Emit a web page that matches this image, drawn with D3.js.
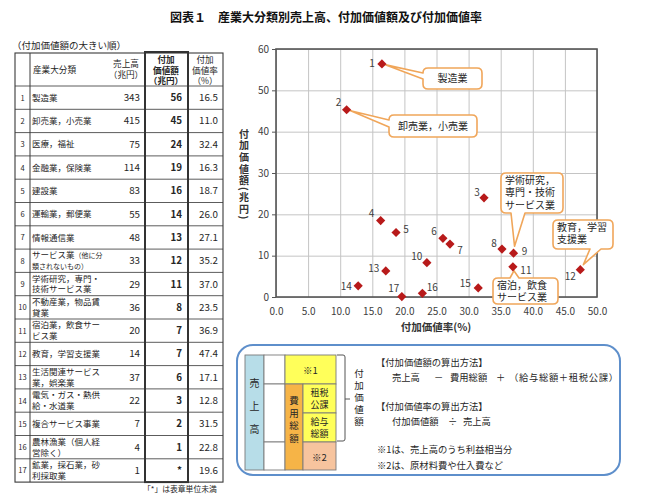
<!DOCTYPE html>
<html><head><meta charset="utf-8">
<script src="https://cdn.jsdelivr.net/npm/d3@7/dist/d3.min.js"></script>
<style>
body{margin:0;background:#fff;}
svg{display:block;}
text{font-family:"Noto Sans CJK JP","Noto Sans",sans-serif;}
</style>
</head><body>
<svg id="c" width="650" height="496"></svg>
<script>
// ---------- data ----------
const industryNo = [1,2,3,4,5,6,7,8,9,10,11,12,13,14,15,16,17];
const industryNames = [
  ["製造業"],["卸売業，小売業"],["医療，福祉"],["金融業，保険業"],["建設業"],
  ["運輸業，郵便業"],["情報通信業"],["サービス業（他に分","類されないもの）"],
  ["学術研究，専門・","技術サービス業"],["不動産業，物品賃","貸業"],["宿泊業，飲食サー","ビス業"],
  ["教育，学習支援業"],["生活関連サービス","業，娯楽業"],["電気・ガス・熱供","給・水道業"],
  ["複合サービス事業"],["農林漁業（個人経","営除く）"],["鉱業，採石業，砂","利採取業"]
];
const salesTrillion = [343,415,75,114,83,55,48,33,29,36,20,14,37,22,7,4,1];
const addedValueLabel = ["56","45","24","19","16","14","13","12","11","8","7","7","6","3","2","1","*"];
const addedValueRate = [16.5,11.0,32.4,16.3,18.7,26.0,27.1,35.2,37.0,23.5,36.9,47.4,17.1,12.8,31.5,22.8,19.6];
const addedValuePlot = [56.4,45.3,24.0,18.5,15.6,14.2,12.8,11.6,10.6,8.3,7.3,6.6,6.3,2.7,2.2,0.9,0.1];
const xTicks = [0,5,10,15,20,25,30,35,40,45,50];
const yTicks = [0,10,20,30,40,50,60];
const calloutIndex = [0,1,8,11,10];
const calloutText = [["製造業"],["卸売業，小売業"],["学術研究，","専門・技術","サービス業"],["教育，学習","支援業"],["宿泊，飲食","サービス業"]];

// ---------- layout ----------
const svg = d3.select("#c");
const x = d3.scaleLinear().domain([0,50]).range([276,597]);
const y = d3.scaleLinear().domain([0,60]).range([297,49]);
const TXT = "#262626";

// title
svg.append("text").attr("x",170).attr("y",22).attr("font-size",12).attr("font-weight","bold").attr("fill","#111").text("図表１");
svg.append("text").attr("x",218).attr("y",22).attr("font-size",12).attr("font-weight","bold").attr("fill","#111")
  .attr("textLength",264).text("産業大分類別売上高、付加価値額及び付加価値率");

// ---------- table ----------
const T = {left:15, numR:30, addL:145, addR:188, right:223, top:53, headB:86, rowH:23.3};
const tg = svg.append("g");
svg.append("text").attr("x",12).attr("y",49).attr("font-size",9.5).attr("fill",TXT).text("（付加価値額の大きい順）");
const tBottom = T.headB + T.rowH*industryNo.length;
const hdr = (xc, ys, lines, bold, anchor) => lines.forEach((l,i)=>tg.append("text").attr("x",xc).attr("y",ys+i*10.5)
   .attr("font-size",8.6).attr("text-anchor",anchor||"middle").attr("font-weight",bold?"bold":"normal").attr("fill",TXT).text(l));
hdr(33,73,["産業大分類"],false,"start");
hdr(126,67,["売上高","（兆円）"]);
hdr(166,63,["付加","価値額","（兆円）"],true);
hdr(205,63,["付加","価値率","（%）"]);
const rows = tg.selectAll("g.row").data(industryNo).join("g").attr("class","row")
  .attr("transform",(d,i)=>`translate(0,${T.headB+i*T.rowH})`);
rows.append("line").attr("x1",T.left).attr("x2",T.right).attr("y1",0).attr("y2",0).attr("stroke","#4a4a4a").attr("stroke-width",0.9);
rows.append("text").attr("x",22.5).attr("y",T.rowH/2+3).attr("font-size",7.5).attr("text-anchor","middle").attr("fill",TXT).text(d=>d);
rows.each(function(d,i){
  const g = d3.select(this), lines = industryNames[i];
  lines.forEach((l,j)=>{
    const yy = lines.length===1 ? T.rowH/2+3.2 : 9.3 + j*10.8;
    const t = g.append("text").attr("x",32).attr("y",yy).attr("font-size",8.5).attr("fill",TXT);
    if(i===7){
      if(j===0){ t.append("tspan").text("サービス業"); t.append("tspan").attr("font-size",7).text("（他に分"); }
      else { t.attr("font-size",7).text(l); }
    } else t.text(l);
  });
});
rows.append("text").attr("x",140).attr("y",T.rowH/2+3.5).attr("font-size",9.8).attr("text-anchor","end").attr("fill",TXT).text((d,i)=>salesTrillion[i]);
rows.append("text").attr("x",182).attr("y",T.rowH/2+3.5).attr("font-size",9.8).attr("font-weight","bold").attr("text-anchor","end").attr("fill",TXT).text((d,i)=>addedValueLabel[i]);
rows.append("text").attr("x",218).attr("y",T.rowH/2+3.5).attr("font-size",9.8).attr("text-anchor","end").attr("fill",TXT).text((d,i)=>addedValueRate[i].toFixed(1));
tg.append("rect").attr("x",T.left).attr("y",T.top).attr("width",T.right-T.left).attr("height",tBottom-T.top).attr("fill","none").attr("stroke","#3a3a3a").attr("stroke-width",1.1);
tg.append("line").attr("x1",T.numR).attr("x2",T.numR).attr("y1",T.top).attr("y2",tBottom).attr("stroke","#3a3a3a").attr("stroke-width",1);
tg.append("rect").attr("x",T.addL).attr("y",T.top-1).attr("width",T.addR-T.addL).attr("height",tBottom-T.top+1).attr("fill","none").attr("stroke","#333").attr("stroke-width",2);
svg.append("text").attr("x",143).attr("y",492).attr("font-size",7.8).attr("fill",TXT).text("「*」は表章単位未満");

// ---------- scatter ----------
const pg = svg.append("g");
pg.append("g").attr("transform","translate(0,297)")
  .call(d3.axisBottom(x).tickValues(xTicks).tickSize(-248).tickFormat(""))
  .call(g=>{g.select(".domain").remove(); g.selectAll("line").attr("stroke","#c4c4c4");});
pg.append("g").attr("transform","translate(276,0)")
  .call(d3.axisLeft(y).tickValues(yTicks).tickSize(-321).tickFormat(""))
  .call(g=>{g.select(".domain").remove(); g.selectAll("line").attr("stroke","#c4c4c4");});
pg.append("rect").attr("x",276).attr("y",49).attr("width",321).attr("height",248).attr("fill","none").attr("stroke","#555").attr("stroke-width",1.6);
pg.append("g").attr("transform","translate(276,0)")
  .call(d3.axisLeft(y).tickValues(yTicks).tickSize(4).tickPadding(3).tickFormat(d3.format("d")))
  .call(g=>{g.select(".domain").remove(); g.selectAll("line").attr("stroke","#555");
    g.selectAll("text").attr("font-size",10).attr("fill","#404040").attr("font-family","Noto Sans");});
pg.append("g").attr("transform","translate(0,297)")
  .call(d3.axisBottom(x).tickValues(xTicks).tickSize(0).tickPadding(11).tickFormat(d3.format(".1f")))
  .call(g=>{g.select(".domain").remove();
    g.selectAll("text").attr("font-size",10).attr("fill","#404040").attr("font-family","Noto Sans");});
svg.append("text").attr("x",436).attr("y",331).attr("font-size",10.5).attr("font-weight","bold").attr("text-anchor","middle").attr("fill","#333").text("付加価値率(%)");
const vertical=(parent,xc,yc,str,fs,ls,bold)=>parent.append("text").attr("x",xc).attr("y",yc)
  .attr("writing-mode","vertical-rl").attr("text-anchor","middle").attr("font-size",fs)
  .attr("letter-spacing",ls).attr("font-weight",bold?"bold":"normal").attr("fill",bold?"#333":TXT).text(str);
vertical(svg,244,175,"付加価値額(兆円)",10,1.6,true);

// callouts
const callLayout = [
  {box:[423,68,482,89], side:"left", a:73, b:79, tip:[4,1]},
  {box:[389,115,477,137], side:"left", a:120, b:127, tip:[4,1]},
  {box:[501,173,563,213], side:"bottom", a:511, b:525, tip:[1,-7]},
  {box:[553,220,613,249], side:"bottom", a:590, b:601, tip:[3,-5]},
  {box:[493,278,558,304], side:"top", a:510, b:519, tip:[1,4]}
];
function calloutPath(L, tx, ty){
  const [x0,y0,x1,y1]=L.box, r=5;
  let p = `M${x0+r},${y0}`;
  if(L.side==="top") p += `H${L.a}L${tx},${ty}L${L.b},${y0}`;
  p += `H${x1-r}Q${x1},${y0} ${x1},${y0+r}V${y1-r}Q${x1},${y1} ${x1-r},${y1}`;
  if(L.side==="bottom") p += `H${L.b}L${tx},${ty}L${L.a},${y1}`;
  p += `H${x0+r}Q${x0},${y1} ${x0},${y1-r}`;
  if(L.side==="left") p += `V${L.b}L${tx},${ty}L${x0},${L.a}`;
  p += `V${y0+r}Q${x0},${y0} ${x0+r},${y0}Z`;
  return p;
}
calloutIndex.forEach((idx,k)=>{
  const L = callLayout[k];
  const px = x(addedValueRate[idx]), py = y(addedValuePlot[idx]);
  pg.append("path").attr("d",calloutPath(L, px+L.tip[0], py+L.tip[1]))
    .attr("fill","#fff").attr("stroke","#F0A65A").attr("stroke-width",1.6).attr("stroke-linejoin","round");
  const lines = calloutText[k];
  const [x0,y0,x1,y1]=L.box;
  const single = lines.length===1;
  lines.forEach((l,j)=>{
    pg.append("text").attr("font-size",10).attr("fill",TXT)
      .attr("x", single ? (x0+x1)/2 : x0+4).attr("text-anchor", single?"middle":"start")
      .attr("y", single ? (y0+y1)/2+3.5 : y0+10.5+j*12.5).text(l);
  });
});
// points
const labelOff = [[-10,-1],[-8,-8],[-7,-6],[-9,-8],[10,-4],[-9,-8],[10,5],[-8,-7],[11,-3],[-10,-7],[13,3],[-10,6],[-12,-3],[-12,0],[-13,-5],[10,-7],[-8,-9]];
const pts = pg.selectAll("g.pt").data(industryNo).join("g").attr("class","pt")
  .attr("transform",(d,i)=>`translate(${x(addedValueRate[i])},${y(addedValuePlot[i])})`);
pts.append("path").attr("d",d3.symbol(d3.symbolDiamond2,54)).attr("fill","#B81A1A");
pts.append("text").attr("x",(d,i)=>labelOff[i][0]).attr("y",(d,i)=>labelOff[i][1])
  .attr("font-size",10).attr("text-anchor","middle").attr("dominant-baseline","central")
  .attr("fill","#404040").attr("font-family","Noto Sans").text(d=>d);

// ---------- diagram ----------
const dg = svg.append("g");
dg.append("rect").attr("x",237).attr("y",345).attr("width",383).attr("height",130).attr("rx",16)
  .attr("fill","#fff").attr("stroke","#5E8FCB").attr("stroke-width",2);
const cell=(x0,y0,x1,y1,fill)=>dg.append("rect").attr("x",x0).attr("y",y0).attr("width",x1-x0).attr("height",y1-y0).attr("fill",fill).attr("stroke","#7a7a7a").attr("stroke-width",0.9);
cell(245,355,264,470,"#B7DDE8");
cell(264,355,285,384,"#fff"); cell(264,384,285,442,"#fff"); cell(264,442,285,470,"#fff");
cell(285,355,336,384,"#FFFF5A");
cell(285,384,303,470,"#F6B447");
cell(303,384,336,413,"#FFFF5A");
cell(303,413,336,442,"#FFFF5A");
cell(303,442,336,470,"#F7C49E");
const ctxt=(xc,yc,t,fs)=>dg.append("text").attr("x",xc).attr("y",yc).attr("font-size",fs)
  .attr("text-anchor","middle").attr("dominant-baseline","central").attr("fill",TXT).text(t);
vertical(dg,254.5,413,"売上高",10,13);
vertical(dg,294,421,"費用総額",9.5,3);
ctxt(319.5,392,"租税",9); ctxt(319.5,404,"公課",9);
ctxt(319.5,421,"給与",9); ctxt(319.5,433,"総額",9);
ctxt(310.5,370,"※1",9.5);
ctxt(319.5,457,"※2",9.5);
dg.append("path").attr("d","M337,355H343Q345,355 345,357V439Q345,441 343,441H337M345,399H350")
  .attr("fill","none").attr("stroke","#555").attr("stroke-width",1);
vertical(dg,359,399,"付加価値額",9.5,2.5);
const dtxt=(xx,yy,t)=>dg.append("text").attr("x",xx).attr("y",yy).attr("font-size",9.3).attr("fill",TXT).text(t);
dtxt(376,366,"【付加価値額の算出方法】");
dtxt(392,381,"売上高"); dtxt(434,381,"－"); dtxt(450,381,"費用総額"); dtxt(496,381,"＋");
dg.append("text").attr("x",509).attr("y",381).attr("font-size",9.3).attr("fill",TXT).attr("textLength",109).text("（給与総額＋租税公課）");
dtxt(376,410,"【付加価値率の算出方法】");
dtxt(392,425,"付加価値額"); dtxt(448,425,"÷"); dtxt(463,425,"売上高");
dtxt(377,453,"※1は、売上高のうち利益相当分");
dtxt(377,469,"※2は、原材料費や仕入費など");
</script>
</body></html>
